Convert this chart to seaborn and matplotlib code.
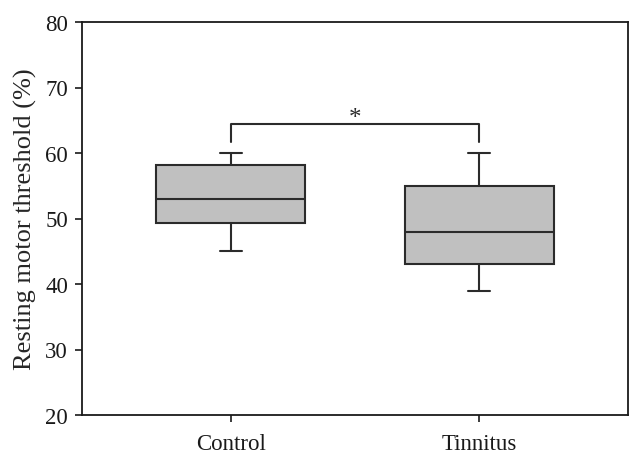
import matplotlib
matplotlib.use("Agg")
import matplotlib.pyplot as plt
import seaborn as sns
import pandas as pd

# Data (five-number summaries)
categories = ["Control", "Tinnitus"]
control_vals = [45, 49.3, 53, 58.2, 60]
tinnitus_vals = [39, 43, 48, 55, 60]
y_ticks = [20, 30, 40, 50, 60, 70, 80]
y_label = "Resting motor threshold (%)"
sig_label = "*"

df = pd.DataFrame({
    "group": [categories[0]] * len(control_vals) + [categories[1]] * len(tinnitus_vals),
    "value": control_vals + tinnitus_vals,
})

sns.set_style("white")
plt.rcParams["font.family"] = ["Liberation Serif", "DejaVu Serif"]

fig = plt.figure(figsize=(6.43, 4.6), dpi=100)
ax = fig.add_axes([82/643, 1-416/460, (628-82)/643, (416-23)/460])

edge = "#2b2b2b"
sns.boxplot(data=df, x="group", y="value", order=categories, ax=ax,
            color="#c0c0c0", width=0.6, whis=1.5, showfliers=False,
            linewidth=1.5, linecolor=edge, saturation=1,
            capwidths=0.087,
            boxprops=dict(edgecolor=edge, facecolor="#c0c0c0"),
            medianprops=dict(color=edge, linewidth=1.5),
            whiskerprops=dict(color=edge, linewidth=1.5),
            capprops=dict(color=edge, linewidth=1.5))

ax.set_xlim(-0.6, 1.6)
ax.set_ylim(20, 80)
ax.set_yticks(y_ticks)
ax.set_xlabel("")
ax.set_ylabel(y_label, fontsize=19, labelpad=6)

for s in ax.spines.values():
    s.set_color("#1a1a1a")
    s.set_linewidth(1.3)

ax.tick_params(axis="both", which="both", direction="out", length=5, width=1.2,
               colors="#1a1a1a", labelsize=16.5, left=True, bottom=True)
ax.tick_params(axis="y", pad=5)
ax.tick_params(axis="x", pad=8)

# significance bracket
y_bar, y_leg = 64.5, 61.7
ax.plot([0, 0, 1, 1], [y_leg, y_bar, y_bar, y_leg], color=edge, lw=1.5)
ax.text(0.5, y_bar - 0.9, sig_label, ha="center", va="bottom", fontsize=18, color=edge)

fig.savefig("out.png", dpi=100)
